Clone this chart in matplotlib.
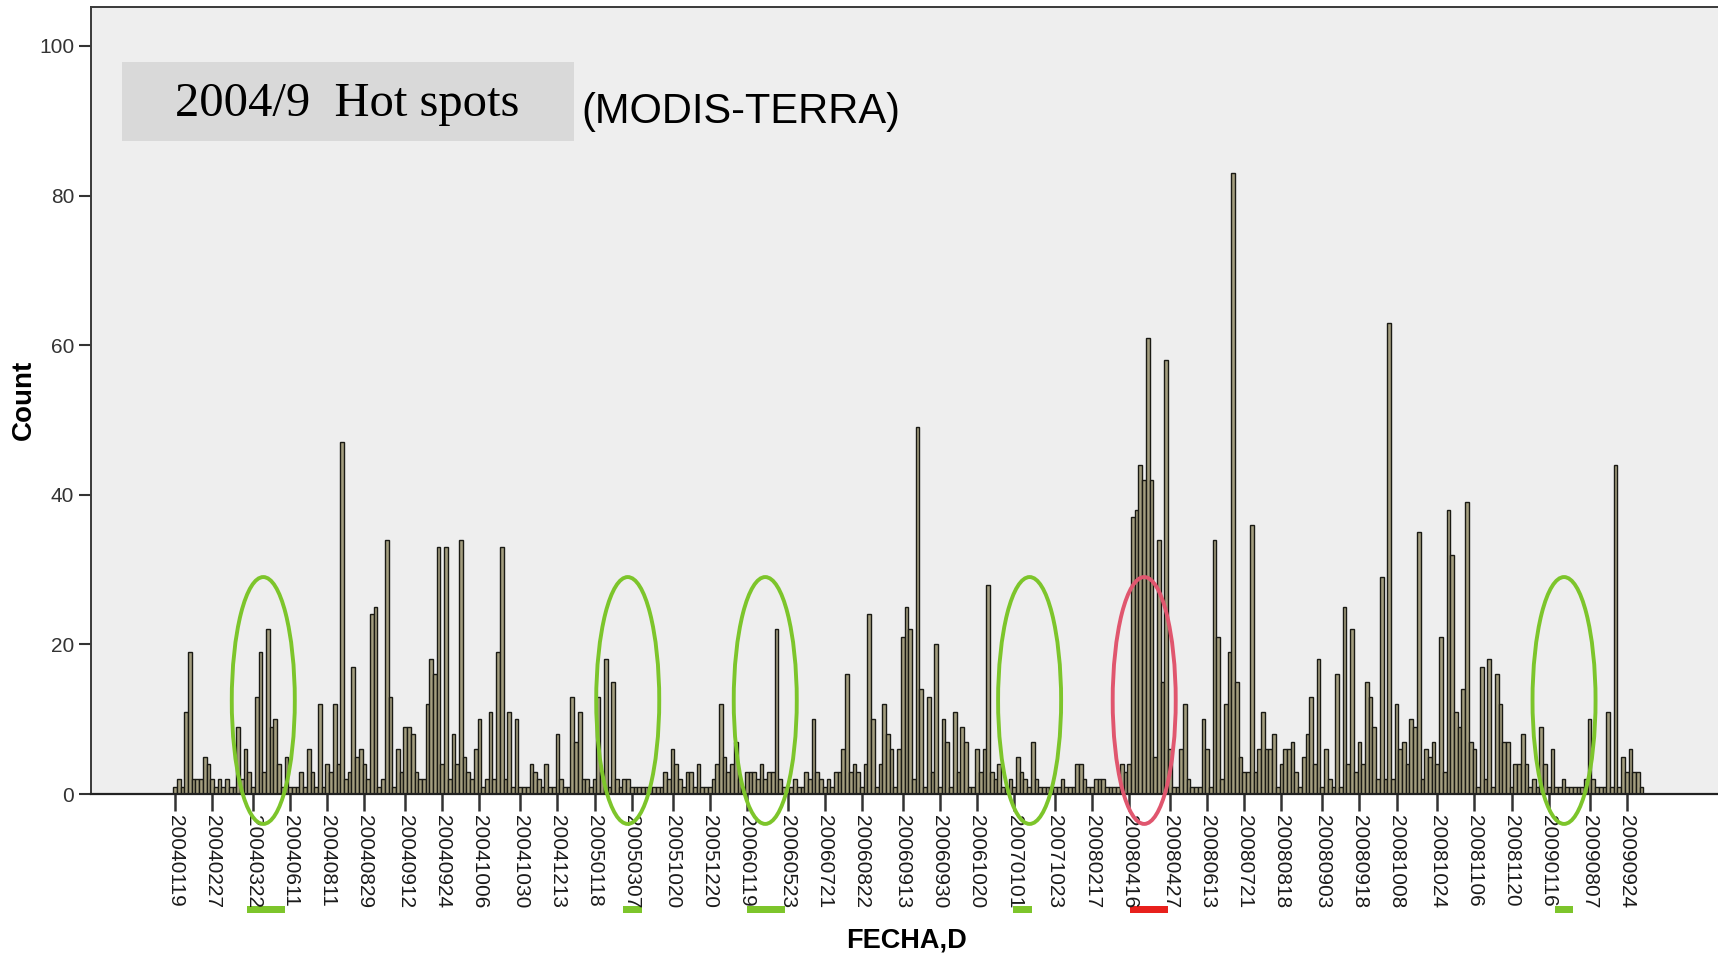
import matplotlib
matplotlib.use('Agg')
import matplotlib.pyplot as plt
import matplotlib.transforms as mtransforms
from matplotlib.patches import Ellipse, Rectangle
import numpy as np

# hot spot counts per date left to right, split by stretch
counts_2004 = [1, 2, 1, 11, 19, 2, 2, 2, 5, 4, 2,
               1, 2, 1, 2, 1, 1, 9, 2, 6, 3, 1,
               13, 19, 3, 22, 9, 10, 4, 1, 5, 1, 1,
               1, 3, 1, 6, 3, 1, 12, 1, 4, 3, 12,
               4, 47, 2, 3, 17, 5, 6, 4, 2, 24, 25,
               1, 2, 34, 13, 1, 6, 3, 9]
counts_2004b = [9, 8, 3, 2, 2, 12, 18, 16, 33, 4, 33, 2, 8, 4, 34, 5, 3, 2, 6, 10,
                1, 2, 11, 2, 19, 33, 2, 11, 1, 10, 1, 1, 1, 4, 3, 2, 1, 4, 1, 1,
                8, 2, 1, 1, 13, 7, 11, 2, 2, 1, 2, 13, 3, 18, 1, 15, 2, 1, 2, 2,
                1, 1, 1, 1, 1, 1, 1]
counts_2005 = [1, 1, 3, 2, 6, 4, 2, 1, 3, 3, 1, 4, 1, 1, 1, 2, 4, 12, 5, 3,
               4, 7, 2, 1, 3, 3, 3, 2, 4, 2, 3, 3, 22, 2, 1, 1, 1, 2, 1, 1,
               3, 2, 10, 3, 2, 1, 2, 1, 3, 3, 6, 16, 3, 4, 3, 1, 4, 24, 10, 1,
               4, 12, 8, 6, 1, 6, 21, 25]
counts_2006 = [22, 2, 49, 14, 1, 13, 3, 20, 1, 10, 7, 1, 11, 3, 9, 7, 1, 1, 6, 3,
               6, 28, 3, 2, 4, 1, 1, 2, 1, 5, 3, 2, 1, 7, 2, 1, 1, 1, 1, 1,
               1, 2, 1, 1, 1, 4, 4, 2, 1, 1, 2, 2, 2, 1, 1, 1, 1, 4, 3, 4]
counts_2008a = [37, 38, 44, 42, 61, 42, 5, 34, 15, 58, 6]
counts_2008b = [1, 1, 6, 12, 2, 1, 1, 1, 10, 6, 1, 34, 21, 2, 12, 19, 83, 15, 5, 3,
                3, 36, 3, 6, 11, 6, 6, 8, 1, 4, 6, 6, 7, 3, 1, 5, 8, 13, 4, 18,
                1, 6, 2, 1, 16, 1, 25, 4, 22, 3, 7, 4, 15, 13, 9, 2, 29, 2]
counts_2008c = [63, 2, 12, 6, 7, 4, 10, 9, 35, 2, 6, 5, 7, 4, 21, 3, 38, 32, 11, 9,
                14, 39, 7, 6, 1, 17, 2, 18, 1, 16, 12, 7, 7, 1, 4, 4, 8, 4, 1, 2,
                1, 9, 4, 1, 6, 1, 1, 2, 1, 1, 1, 1, 1, 2, 10, 2, 1, 1, 1, 11,
                1, 44, 1, 5, 3, 6, 3, 3, 1]

tick_labels = ['20040119', '20040227', '20040322', '20040611', '20040811', '20040829',
               '20040912', '20040924', '20041006', '20041030', '20041213', '20050118',
               '20050307', '20051020', '20051220', '20060119', '20060523', '20060721',
               '20060822', '20060913', '20060930', '20061020', '20070101', '20071023',
               '20080217', '20080416', '20080427', '20080613', '20080721', '20080818',
               '20080903', '20080918', '20081008', '20081024', '20081106', '20081120',
               '20090116', '20090807', '20090924']

# highlighted periods, in tick units (green = low season, red = 2008 fire event)
ellipse_centers = [2.31, 11.85, 15.45, 22.37, 25.37, 36.36]
ellipse_colors = ['#7dc52b', '#7dc52b', '#7dc52b', '#7dc52b', '#e0566e', '#7dc52b']
underline_spans = [(1.88, 2.88), (11.73, 12.23), (14.97, 15.97), (21.94, 22.43),
                   (25.0, 26.0), (36.13, 36.6)]
underline_colors = ['#7dc52b', '#7dc52b', '#7dc52b', '#7dc52b', '#e8201c', '#7dc52b']

counts = (counts_2004 + counts_2004b + counts_2005 + counts_2006 +
          counts_2008a + counts_2008b + counts_2008c)
N = len(counts)
step = (N - 5) / 38.0
tick_pos = [int(round(k * step)) for k in range(len(tick_labels))]

W, H = 1718, 956
fig = plt.figure(figsize=(W / 100, H / 100), dpi=100)
fig.patch.set_facecolor('white')
ax = fig.add_axes([91 / W, 1 - 794 / H, 1 - 91 / W + 0.01, (794 - 7) / H])
ax.set_facecolor('#eeeeee')

ax.bar(np.arange(N), counts, width=1.0, color='#a39d7e', edgecolor='#1a1a14',
       linewidth=1.0, zorder=2)

ax.set_xlim(-2.2 * step, 40.84 * step)
ax.set_ylim(0, 105.2)

for s in ['top', 'left']:
    ax.spines[s].set_color('#3a3a3a')
    ax.spines[s].set_linewidth(1.4)
ax.spines['bottom'].set_color('#222222')
ax.spines['bottom'].set_linewidth(1.6)
ax.spines['right'].set_visible(False)

ax.set_yticks(range(0, 101, 20))
ax.set_yticklabels([str(v) for v in range(0, 101, 20)], fontsize=15,
                   family='Liberation Sans', color='#333333')
ax.tick_params(axis='y', length=9, width=1.5, color='#333333', pad=3)

ax.set_xticks(tick_pos)
ax.set_xticklabels(tick_labels, rotation=-90, fontsize=15, family='Liberation Sans',
                   color='#1a1a1a', ha='center', va='top')
ax.tick_params(axis='x', length=12, width=1.8, color='#333333', pad=3)

# ellipses around the periods
for kc, col in zip(ellipse_centers, ellipse_colors):
    e = Ellipse((kc * step, 12.5), width=1.65 * step, height=33, fill=False,
                edgecolor=col, linewidth=2.8, clip_on=False, zorder=5)
    ax.add_patch(e)

# coloured marks under the date labels
blend = mtransforms.blended_transform_factory(ax.transData, fig.transFigure)
for (k0, k1), col in zip(underline_spans, underline_colors):
    r = Rectangle((k0 * step, 1 - 913 / H), (k1 - k0) * step, 7 / H,
                  transform=blend, facecolor=col, edgecolor='none', clip_on=False)
    ax.add_patch(r)

# title box
fig.add_artist(Rectangle((122 / W, 1 - 141 / H), 452 / W, 79 / H, transform=fig.transFigure,
                         facecolor='#d9d9d9', edgecolor='none', zorder=3))
fig.text(347 / W, 1 - 104 / H, '2004/9  Hot spots', family='Liberation Serif',
         fontsize=35, ha='center', va='center', zorder=4)
fig.text(741 / W, 1 - 112 / H, '(MODIS-TERRA)', family='Liberation Sans',
         fontsize=30, ha='center', va='center', zorder=4)

fig.text(24 / W, 1 - 400 / H, 'Count', family='Liberation Sans', fontweight='bold',
         fontsize=20, rotation=90, ha='center', va='center')
fig.text(906 / W, 1 - 940 / H, 'FECHA,D', family='Liberation Sans', fontweight='bold',
         fontsize=19.5, ha='center', va='center')

fig.savefig('out.png', dpi=100)
